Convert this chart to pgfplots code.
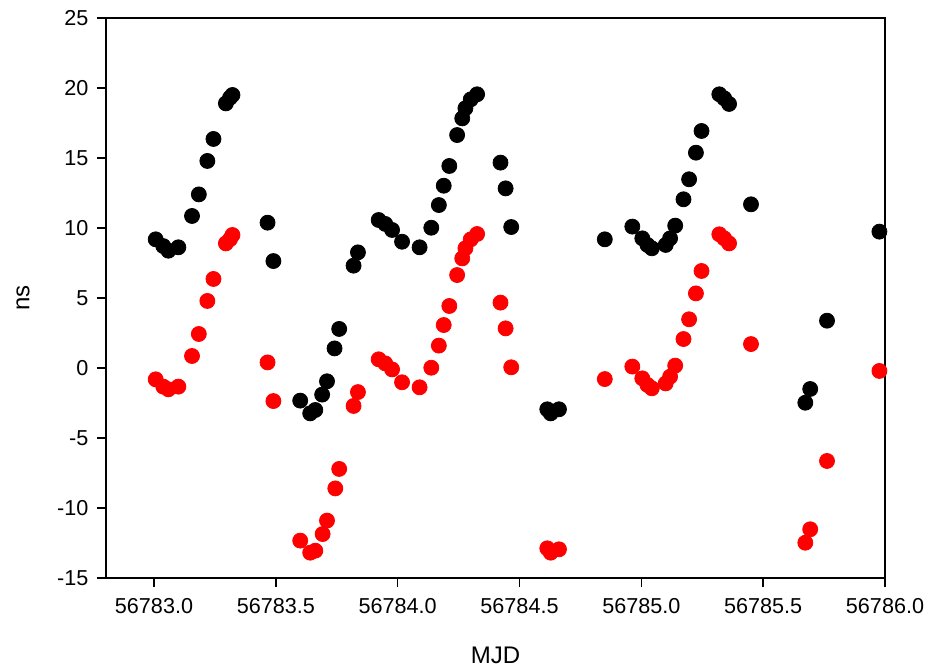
\documentclass[border=0pt]{standalone}
\usepackage{pgfplots}
\pgfplotsset{compat=1.18}
\usepackage{pgfplotstable}
\usepackage{fontspec}
\setmainfont{Liberation Sans}
% t = MJD - 56783
\pgfplotstableread{
t y
0.007 9.19
0.038 8.71
0.059 8.38
0.100 8.62
0.156 10.86
0.184 12.40
0.219 14.79
0.244 16.36
0.295 18.90
0.312 19.30
0.322 19.50
0.466 10.38
0.490 7.64
0.600 -2.33
0.641 -3.24
0.662 -3.00
0.690 -1.90
0.710 -0.95
0.741 1.40
0.760 2.79
0.819 7.31
0.837 8.26
0.922 10.57
0.949 10.29
0.977 9.86
1.018 9.02
1.090 8.62
1.138 10.02
1.169 11.64
1.189 13.02
1.212 14.43
1.244 16.64
1.265 17.83
1.278 18.55
1.300 19.19
1.326 19.55
1.422 14.67
1.443 12.83
1.466 10.07
1.614 -2.95
1.628 -3.24
1.662 -2.95
1.850 9.19
1.963 10.10
2.004 9.26
2.025 8.79
2.043 8.55
2.100 8.79
2.118 9.26
2.139 10.17
2.173 12.05
2.196 13.48
2.224 15.38
2.247 16.93
2.320 19.55
2.340 19.26
2.360 18.86
2.450 11.69
2.673 -2.48
2.693 -1.50
2.762 3.38
2.977 9.74
}\blackdata
\pgfplotstableread{
t y
0.007 -0.81
0.038 -1.33
0.059 -1.52
0.100 -1.33
0.156 0.86
0.184 2.43
0.219 4.79
0.244 6.36
0.295 8.90
0.312 9.20
0.322 9.50
0.466 0.40
0.490 -2.36
0.600 -12.33
0.641 -13.19
0.662 -13.05
0.692 -11.86
0.710 -10.90
0.744 -8.60
0.760 -7.21
0.819 -2.71
0.837 -1.72
0.922 0.62
0.949 0.33
0.977 -0.10
1.018 -1.02
1.090 -1.38
1.138 0.02
1.169 1.60
1.189 3.07
1.212 4.43
1.244 6.64
1.265 7.83
1.278 8.55
1.300 9.19
1.326 9.57
1.422 4.67
1.443 2.83
1.466 0.05
1.614 -12.88
1.628 -13.19
1.662 -12.95
1.850 -0.79
1.963 0.10
2.004 -0.74
2.025 -1.21
2.043 -1.45
2.100 -1.10
2.118 -0.62
2.139 0.17
2.173 2.07
2.196 3.48
2.224 5.33
2.247 6.93
2.320 9.55
2.340 9.26
2.360 8.90
2.450 1.71
2.673 -12.48
2.693 -11.52
2.762 -6.64
2.977 -0.21
}\reddata
\begin{document}
\fontsize{10.8}{13}\selectfont
\begin{tikzpicture}
\begin{axis}[
  name=ax,
  scale only axis,
  width=389.5pt, height=280pt,
  xmin=-0.197, xmax=3.0,
  ymin=-15, ymax=25,
  xtick={0,0.5,1,1.5,2,2.5,3},
  xticklabels={56783.0,56783.5,56784.0,56784.5,56785.0,56785.5,56786.0},
  ytick={-15,-10,...,25},
  tick align=outside,
  xtick pos=bottom, ytick pos=left,
  major tick length=4.5pt,
  axis line style={line width=0.8pt},
  every tick/.style={line width=0.8pt, black},
  /pgf/number format/assume math mode=true,
  ticklabel style={font=\fontsize{10.8}{13}\selectfont},
  xticklabel style={yshift=-2pt},
  yticklabel style={xshift=-0.5pt},
  xlabel={MJD}, ylabel={ns},
  label style={font=\fontsize{12}{14}\selectfont},
  xlabel style={at={(axis description cs:0.5,-0.1375)},anchor=center},
  ylabel style={at={(axis description cs:-0.1066,0.5)},anchor=center},
  clip=false,
]
\addplot[only marks, mark=*, mark size=3.75pt, black, mark options={fill=black, draw=black}] table[x=t,y=y] {\blackdata};
\addplot[only marks, mark=*, mark size=3.75pt, red, mark options={fill=red, draw=red}] table[x=t,y=y] {\reddata};
\end{axis}
\pgfresetboundingbox
\path ([xshift=-53pt,yshift=-45pt]ax.south west) rectangle ([xshift=21.5pt,yshift=9pt]ax.north east);
\end{tikzpicture}
\end{document}
